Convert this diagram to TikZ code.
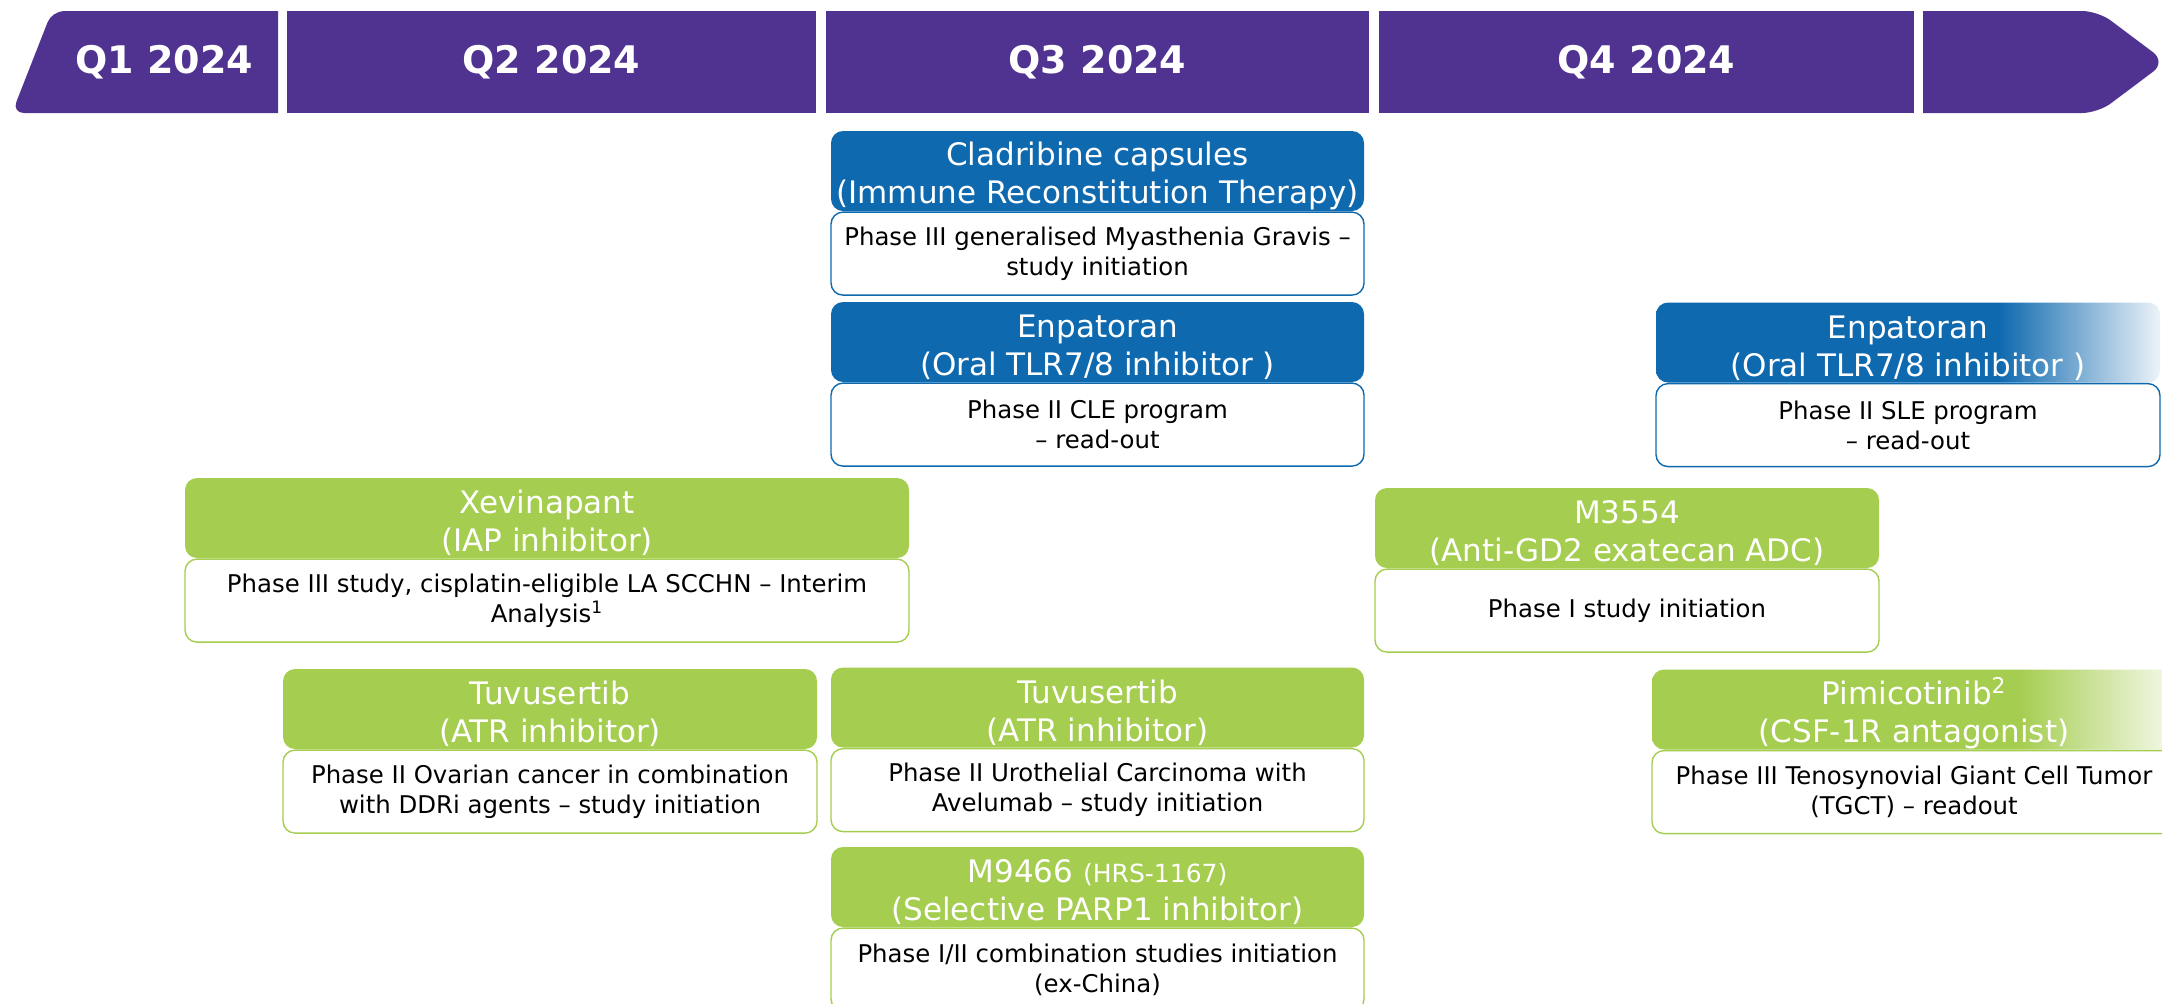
\documentclass[tikz,border=0pt]{standalone}
\usepackage{fontspec}
\setmainfont{DejaVu Sans}
\usetikzlibrary{positioning}
\definecolor{mpurple}{RGB}{80,50,145}
\definecolor{mblue}{RGB}{15,105,175}
\definecolor{mgreen}{RGB}{165,205,80}
\pgfdeclarehorizontalshading{bluefade}{100bp}{color(0bp)=(mblue); color(25bp)=(mblue); color(59bp)=(mblue); color(75bp)=(mblue!8); color(100bp)=(mblue!8)}
\pgfdeclarehorizontalshading{greenfade}{100bp}{color(0bp)=(mgreen); color(25bp)=(mgreen); color(60bp)=(mgreen); color(75bp)=(mgreen!10); color(100bp)=(mgreen!10)}
% extra room above the first header line
\newcommand{\headrule}{\rule{0pt}{17pt}}

\begin{document}
\begin{tikzpicture}[
  x=0.5pt, y=-0.5pt,
  quarter/.style={fill=mpurple},
  qlabel/.style={text=white, font=\fontsize{19}{22}\selectfont\bfseries},
  drug head/.style={rounded corners=6pt, text=white, align=center, inner sep=0pt,
    minimum height=40pt, font=\fontsize{15.5}{19}\selectfont},
  blue head/.style={drug head, fill=mblue},
  green head/.style={drug head, fill=mgreen},
  study box/.style={rounded corners=6pt, fill=white, line width=0.7pt, align=center,
    inner sep=0pt, minimum height=41.5pt, font=\fontsize{12.2}{15}\selectfont},
  blue box/.style={study box, draw=mblue},
  green box/.style={study box, draw=mgreen}
]
\useasboundingbox (0,0) rectangle (2162,1003);
\clip (0,0) rectangle (2162,1003);

% quarter banner
\fill[quarter] (278,113) -- (278,11) [rounded corners=6pt] -- (52,11) -- (12,113) [sharp corners] -- cycle;
\node[qlabel] (q1) at (164,62) {Q1 2024};
\foreach \n/\l/\r in {2/287/816, 3/826/1369, 4/1379/1914}
  \node[quarter, qlabel, minimum width={(\r-\l)*0.5pt}, minimum height=51pt, inner sep=0pt]
    (q\n) at ({(\l+\r)/2},62) {Q\n\ 2024};
\fill[quarter] (1923,113) -- (1923,11) [rounded corners=8pt] -- (2098,11) -- (2166,62) -- (2098,113) [sharp corners] -- cycle;

% Q3 column
\node[blue head, minimum width=266.5pt] (clad) at (1097.5,171) {\headrule Cladribine capsules\\(Immune Reconstitution Therapy)};
\node[blue box, minimum width=266.5pt, below=0pt of clad] (clad-s) {Phase III generalised Myasthenia Gravis –\\study initiation};
\node[blue head, minimum width=266.5pt] (enpa) at (1097.5,342) {\headrule Enpatoran\\(Oral TLR7/8 inhibitor )};
\node[blue box, minimum width=266.5pt, below=0pt of enpa] (enpa-s) {Phase II CLE program\\– read-out};
\node[green head, minimum width=266.5pt] (tuvb) at (1097.5,707.5) {\headrule Tuvusertib\\(ATR inhibitor)};
\node[green box, minimum width=266.5pt, below=0pt of tuvb] (tuvb-s) {Phase II Urothelial Carcinoma with\\Avelumab – study initiation};
\node[green head, minimum width=266.5pt] (parp) at (1097.5,887) {\headrule M9466 {\fontsize{12.5}{15}\selectfont(HRS-1167)}\\(Selective PARP1 inhibitor)};
\node[green box, minimum width=266.5pt, below=0pt of parp] (parp-s) {Phase I/II combination studies initiation\\(ex-China)};

% Q1/Q2 columns
\node[green head, minimum width=362pt] (xevi) at (547,518) {\headrule Xevinapant\\(IAP inhibitor)};
\node[green box, minimum width=362pt, below=0pt of xevi] (xevi-s) {Phase III study, cisplatin-eligible LA SCCHN – Interim\\Analysis\textsuperscript{1}};
\node[green head, minimum width=267pt] (tuva) at (550,709) {\headrule Tuvusertib\\(ATR inhibitor)};
\node[green box, minimum width=267pt, below=0pt of tuva] (tuva-s) {Phase II Ovarian cancer in combination\\with DDRi agents – study initiation};

% Q4 and beyond
\node[green head, minimum width=252pt] (adc) at (1627,528) {\headrule M3554\\(Anti-GD2 exatecan ADC)};
\node[green box, minimum width=252pt, below=0pt of adc] (adc-s) {Phase I study initiation};
\node[drug head, shade, shading=bluefade, minimum width=252pt] (enpb) at (1908,342.5) {\headrule Enpatoran\\(Oral TLR7/8 inhibitor )};
\node[blue box, minimum width=252pt, below=0pt of enpb] (enpb-s) {Phase II SLE program\\– read-out};
\node[drug head, shade, shading=greenfade, minimum width=262pt] (pimi) at (1914,709.5) {\headrule Pimicotinib\textsuperscript{2}\\(CSF-1R antagonist)};
\node[green box, minimum width=262pt, below=0pt of pimi] (pimi-s) {Phase III Tenosynovial Giant Cell Tumor\\(TGCT) – readout};
\end{tikzpicture}
\end{document}
